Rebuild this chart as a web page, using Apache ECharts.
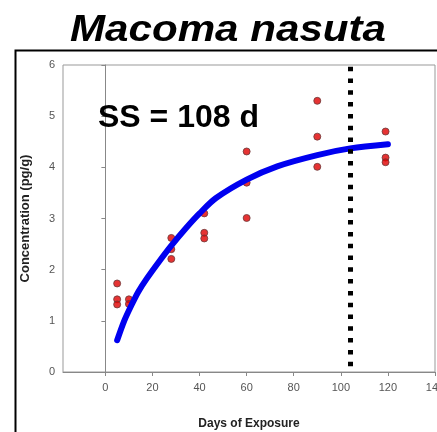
<!DOCTYPE html>
<html>
<head>
<meta charset="utf-8">
<script src="https://cdn.jsdelivr.net/npm/echarts@6/dist/echarts.min.js"></script>
<style>html,body{margin:0;padding:0;background:#fff;}#c{width:437px;height:432px;}</style>
</head>
<body>
<div id="c"></div>
<script>
// Observed data: [day, concentration]
const obsDays   = [5, 5, 5, 10, 10, 28, 28, 28, 42, 42, 42, 60, 60, 60, 90, 90, 90, 119, 119, 119];
const obsValues = [1.73, 1.42, 1.32, 1.42, 1.33, 2.62, 2.40, 2.21, 3.10, 2.72, 2.61, 4.31, 3.70, 3.01, 5.30, 4.60, 4.01, 4.70, 4.19, 4.10];
// Fitted uptake curve
const curveDays   = [5, 8, 11, 14, 17.5, 23, 28, 34, 40, 47, 60, 73, 90, 104, 120];
const curveValues = [0.62, 1.0, 1.3, 1.57, 1.82, 2.17, 2.47, 2.80, 3.10, 3.40, 3.76, 4.02, 4.24, 4.37, 4.45];
const steadyStateDay = 104;
const xTicks = [0, 20, 40, 60, 80, 100, 120, 140];
const titleText = 'Macoma nasuta';
const ssText = 'SS = 108 d';

const chart = echarts.init(document.getElementById('c'), null, {renderer: 'canvas'});
const scatterData = obsDays.map((d, i) => [d, obsValues[i]]);
const curveData = curveDays.map((d, i) => [d, curveValues[i]]);
const tickFont = {color: '#555', fontSize: 11, fontFamily: 'Liberation Sans, Arial, sans-serif'};

chart.setOption({
  animation: false,
  backgroundColor: '#fff',
  grid: {left: 63, top: 65, right: 2, bottom: 60, show: true, borderColor: '#999', borderWidth: 1, backgroundColor: 'transparent', containLabel: false, outerBoundsMode: 'none'},
  xAxis: {
    type: 'value', min: -18, max: 140,
    axisLine: {show: true, lineStyle: {color: '#888', width: 1}},
    axisTick: {show: true, length: 4, customValues: xTicks, lineStyle: {color: '#888'}},
    axisLabel: Object.assign({margin: 10, customValues: xTicks}, tickFont),
    splitLine: {show: false},
    name: 'Days of Exposure', nameLocation: 'middle', nameGap: 46,
    nameTextStyle: {color: '#222', fontSize: 12, fontWeight: 'bold', fontFamily: 'Liberation Sans, Arial, sans-serif'}
  },
  yAxis: {
    type: 'value', min: 0, max: 6, interval: 1,
    axisLine: {show: true, lineStyle: {color: '#888', width: 1}},
    axisTick: {show: true, length: 4, lineStyle: {color: '#888'}},
    axisLabel: Object.assign({margin: 8}, tickFont),
    splitLine: {show: false},
    name: 'Concentration (pg/g)', nameLocation: 'middle', nameGap: 31,
    nameTextStyle: {color: '#222', fontSize: 13, fontWeight: 'bold', fontFamily: 'Liberation Sans, Arial, sans-serif'}
  },
  series: [
    {
      type: 'scatter', data: scatterData, symbol: 'circle', symbolSize: 7, z: 2,
      itemStyle: {color: '#e00000', borderColor: '#6a3a3a', borderWidth: 1}
    },
    {
      type: 'line', data: curveData, smooth: 0.3, showSymbol: false, z: 3,
      lineStyle: {color: '#0000f0', width: 6, cap: 'round', join: 'round'},
      markLine: {
        silent: true, symbol: 'none', label: {show: false}, z: 5,
        lineStyle: {color: '#000', width: 5, type: [4.5, 7.3], dashOffset: 6},
        data: [{xAxis: steadyStateDay}]
      }
    }
  ],
  graphic: [
    {type: 'rect', left: 13, top: 48, shape: {x: 0, y: 0, width: 600, height: 600}, style: {fill: 'none', stroke: '#000', lineWidth: 2}, silent: true, z: 10},
    {type: 'text', x: 228, y: 31, scaleX: 1.17, style: {text: titleText, textAlign: 'center', textVerticalAlign: 'middle', font: 'italic bold 36px "Liberation Sans", Arial, sans-serif', fill: '#000'}, z: 10},
    {type: 'text', x: 98, y: 118, style: {text: ssText, textAlign: 'left', textVerticalAlign: 'middle', font: 'bold 32px "Liberation Sans", Arial, sans-serif', fill: '#000'}, z: 10}
  ]
});
</script>
</body>
</html>
